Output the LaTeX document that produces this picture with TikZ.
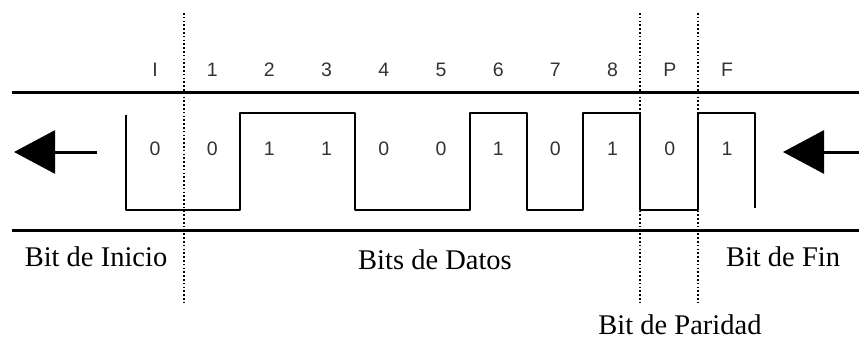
\documentclass[tikz,border=0pt]{standalone}
\usepackage{fontspec}
\setmainfont{Liberation Serif}
\newfontfamily\labelfont{Liberation Sans}
\usetikzlibrary{arrows.meta, positioning}

\begin{document}
\begin{tikzpicture}[x=1pt, y=-1pt,
  rail/.style={line width=3pt},
  wave/.style={line width=2.6pt, line join=round},
  sep/.style={line width=1.6pt, dash pattern=on 1.6pt off 2.2pt},
  bitlbl/.style={font=\labelfont\fontsize{19.5}{19.5}\selectfont, text=black!80, inner sep=0pt},
  caption/.style={font=\fontsize{28.5}{28.5}\selectfont, inner sep=0pt},
  dir/.style={line width=3pt, -{Triangle[length=41pt, width=43pt]}}]
\useasboundingbox (0,0) rectangle (859,342);
% Rails
\coordinate (railTL) at (12,93);
\coordinate (railTR) at (859,93);
\coordinate (railBL) at (12,230);
\coordinate (railBR) at (859,230);
\draw[rail] (railTL) -- (railTR);
\draw[rail] (railBL) -- (railBR);
% Separators
\foreach \sx/\sname in {184/sepA, 640/sepB, 698/sepC} {
  \coordinate (\sname top) at (\sx,13);
  \coordinate (\sname bot) at (\sx,305);
  \draw[sep] (\sname top) -- (\sname bot);
}
% Bit labels and values
\foreach \bname/\bval [count=\i] in {I/0, 1/0, 2/1, 3/1, 4/0, 5/0, 6/1, 7/0, 8/1, P/0, F/1} {
  \node[bitlbl] (lbl\i) at ({155+(\i-1)*57.2},70) {\bname};
  \node[bitlbl] (val\i) at ({155+(\i-1)*57.2},149) {\bval};
}
% Waveform
\draw[wave] (126,115) -- (126,210) -- (240,210) -- (240,113) -- (355,113)
  -- (355,210) -- (470,210) -- (470,113) -- (527,113) -- (527,210)
  -- (583,210) -- (583,113) -- (640,113) -- (640,210) -- (698,210)
  -- (698,113) -- (755,113) -- (755,208);
% Direction arrows
\coordinate (outS) at (97,152);
\coordinate (outE) at (14,152);
\coordinate (inS) at (859,152);
\coordinate (inE) at (783,152);
\draw[dir] (outS) -- (outE);
\draw[dir] (inS) -- (inE);
% Captions
\node[caption] (inicio) at (96,257) {Bit de Inicio};
\node[caption] (datos) at (435,260) {Bits de Datos};
\node[caption] (fin) at (783,257) {Bit de Fin};
\node[caption] (paridad) at (680,325) {Bit de Paridad};
\end{tikzpicture}
\end{document}
